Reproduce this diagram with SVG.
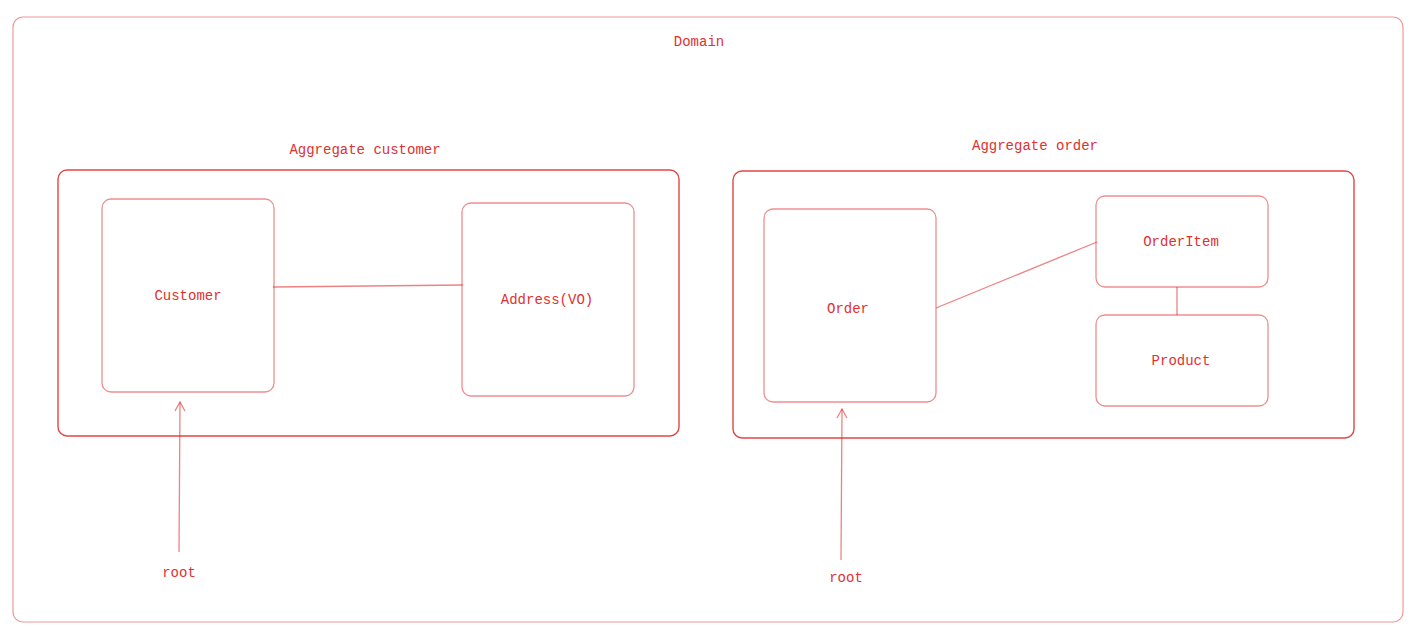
<svg xmlns="http://www.w3.org/2000/svg" width="1415" height="634" viewBox="0 0 1415 634">
<style>
.t{font-family:"Liberation Mono","DejaVu Sans Mono",monospace;font-size:14px;fill:#e03131;text-anchor:middle;dominant-baseline:central}
.box{fill:none;stroke:#e03131;stroke-opacity:0.55;stroke-width:1.3}
.agg{fill:none;stroke:#e03131;stroke-opacity:0.9;stroke-width:1.4}
.dom{fill:none;stroke:#e03131;stroke-opacity:0.5;stroke-width:1.2}
.c{fill:none;stroke:#e03131;stroke-opacity:0.6;stroke-width:1.3}
</style>
<defs>
<marker id="ah" markerWidth="12" markerHeight="12" refX="11" refY="6" orient="auto" markerUnits="userSpaceOnUse" viewBox="0 0 12 12">
<path d="M2,1 L11,6 L2,11" fill="none" stroke="#e03131" stroke-opacity="0.6" stroke-width="1.3"/>
</marker>
</defs>
<rect width="1415" height="634" fill="#ffffff"/>
<g id="domain">
<rect class="dom" x="13" y="17" width="1390" height="605" rx="10"/>
<text class="t" x="699" y="42">Domain</text>
</g>
<g id="aggregate-customer">
<rect class="agg" x="58" y="170" width="621" height="266" rx="9"/>
<text class="t" x="365" y="150">Aggregate customer</text>
</g>
<g id="aggregate-order">
<rect class="agg" x="733" y="171" width="621" height="267" rx="9"/>
<text class="t" x="1035" y="146">Aggregate order</text>
</g>
<g id="customer">
<rect class="box" x="102" y="199" width="172" height="193" rx="9"/>
<text class="t" x="188" y="296">Customer</text>
</g>
<g id="address">
<rect class="box" x="462" y="203" width="172" height="193" rx="9"/>
<text class="t" x="547" y="300">Address(VO)</text>
</g>
<g id="order">
<rect class="box" x="764" y="209" width="172" height="193" rx="9"/>
<text class="t" x="848" y="309">Order</text>
</g>
<g id="orderitem">
<rect class="box" x="1096" y="196" width="172" height="91" rx="9"/>
<text class="t" x="1181" y="242">OrderItem</text>
</g>
<g id="product">
<rect class="box" x="1096" y="315" width="172" height="91" rx="9"/>
<text class="t" x="1181" y="361">Product</text>
</g>
<g id="root-customer">
<text class="t" x="179" y="573">root</text>
</g>
<g id="root-order">
<text class="t" x="846" y="578">root</text>
</g>
<g id="connectors">
<path class="c" d="M273,287 L463,285"/>
<path class="c" d="M936,308 L1097,242"/>
<path class="c" d="M1177,287 L1177,315"/>
<path class="c" d="M179,552 L180,402" marker-end="url(#ah)"/>
<path class="c" d="M841,560 L842,409" marker-end="url(#ah)"/>
</g>
</svg>
